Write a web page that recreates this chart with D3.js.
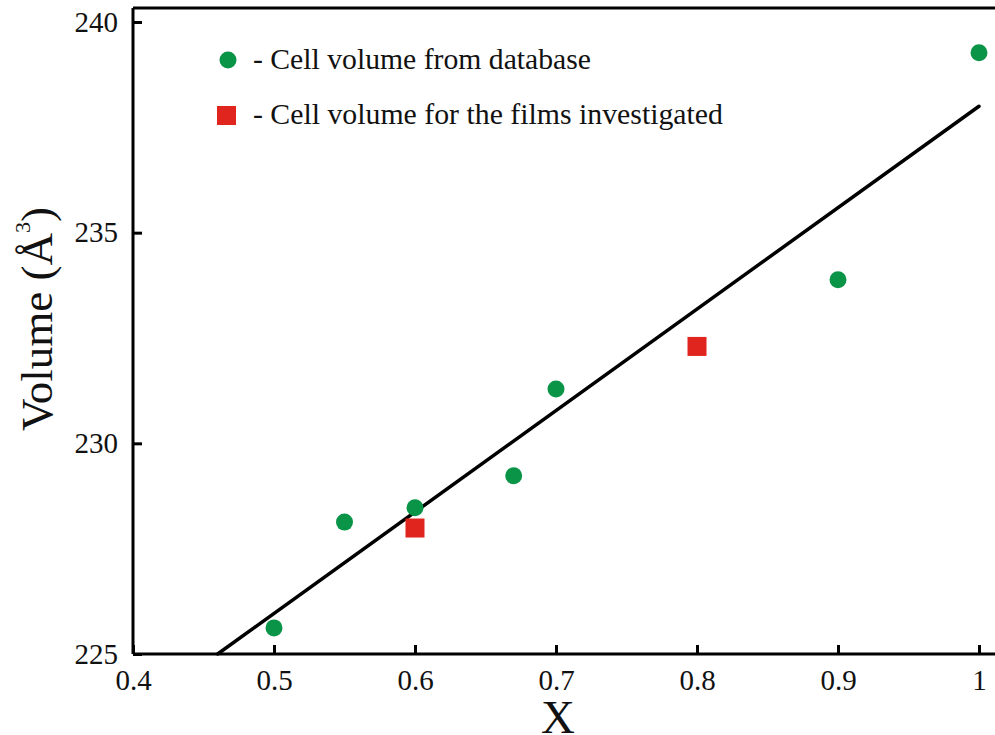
<!DOCTYPE html>
<html>
<head>
<meta charset="utf-8">
<script src="https://cdn.jsdelivr.net/npm/d3@7/dist/d3.min.js"></script>
<style>
  html, body { margin: 0; padding: 0; background: #fff; }
  svg { display: block; }
  svg text { font-family: "Liberation Serif", "Times New Roman", serif; }
</style>
</head>
<body>
<svg id="chart" width="995" height="735"></svg>
<script>
// Cell volume from database
const dbX = [0.5, 0.55, 0.6, 0.67, 0.7, 0.9, 1.0];
const dbV = [225.62, 228.13, 228.47, 229.23, 231.29, 233.88, 239.27];

// Cell volume for the films investigated
const filmX = [0.6, 0.8];
const filmV = [227.99, 232.30];

// Linear fit endpoints
const fitX = [0.46, 1.0];
const fitV = [225.0, 238.0];

const xTicks = [0.4, 0.5, 0.6, 0.7, 0.8, 0.9, 1];
const yTicks = [225, 230, 235, 240];
const xTickLabels = ["0.4", "0.5", "0.6", "0.7", "0.8", "0.9", "1"];

const legendLabels = ["- Cell volume from database", "- Cell volume for the films investigated"];

const GREEN = "#0a9447";
const RED = "#e0251e";
const SERIF = "'Liberation Serif', 'Times New Roman', serif";

const svg = d3.select("#chart");
const plotLeft = 133, plotRight = 995, plotTop = 8, plotBottom = 654;

const x = d3.scaleLinear().domain([0.4, 1.0]).range([plotLeft, 979]);
const y = d3.scaleLinear().domain([225, 240]).range([plotBottom, 22]);

// frame: top border line
svg.append("line")
  .attr("x1", plotLeft).attr("x2", plotRight)
  .attr("y1", plotTop).attr("y2", plotTop)
  .attr("stroke", "#000").attr("stroke-width", 3);

// x axis
const xAxis = svg.append("g")
  .attr("transform", `translate(0,${plotBottom})`)
  .call(d3.axisBottom(x).tickValues(xTicks).tickSizeInner(-9).tickSizeOuter(0)
    .tickFormat((d, i) => xTickLabels[i]).tickPadding(15));
xAxis.style("font-family", SERIF);
xAxis.select(".domain").attr("d", `M${plotLeft},0H${plotRight}`).attr("stroke-width", 3);
xAxis.selectAll(".tick line").attr("stroke-width", 3);
xAxis.selectAll(".tick text")
  .style("font-family", SERIF).attr("font-size", 29).attr("fill", "#111");

// y axis
const yAxis = svg.append("g")
  .attr("transform", `translate(${plotLeft},0)`)
  .call(d3.axisLeft(y).tickValues(yTicks).tickSizeInner(-9).tickSizeOuter(0).tickPadding(15));
yAxis.style("font-family", SERIF);
yAxis.select(".domain").attr("d", `M0,${plotTop}V${plotBottom}`).attr("stroke-width", 3);
yAxis.selectAll(".tick line").attr("stroke-width", 3);
yAxis.selectAll(".tick text")
  .style("font-family", SERIF).attr("font-size", 29).attr("fill", "#111");

// fit line
const line = d3.line().x(d => x(d[0])).y(d => y(d[1]));
svg.append("path")
  .datum(fitX.map((v, i) => [v, fitV[i]]))
  .attr("d", line)
  .attr("fill", "none").attr("stroke", "#000").attr("stroke-width", 3.5)
  .attr("stroke-linecap", "round");

// database points
svg.append("g").selectAll("circle")
  .data(dbX.map((v, i) => [v, dbV[i]]))
  .join("circle")
  .attr("cx", d => x(d[0])).attr("cy", d => y(d[1]))
  .attr("r", 8.5).attr("fill", GREEN);

// film points
const sq = 19;
svg.append("g").selectAll("rect")
  .data(filmX.map((v, i) => [v, filmV[i]]))
  .join("rect")
  .attr("x", d => x(d[0]) - sq / 2).attr("y", d => y(d[1]) - sq / 2)
  .attr("width", sq).attr("height", sq).attr("fill", RED);

// legend
const lg = svg.append("g");
lg.append("circle").attr("cx", 228).attr("cy", 60).attr("r", 8.5).attr("fill", GREEN);
lg.append("rect").attr("x", 217).attr("y", 106).attr("width", 19).attr("height", 19).attr("fill", RED);
lg.selectAll("text")
  .data(legendLabels)
  .join("text")
  .attr("x", 253).attr("y", (d, i) => 69 + i * 55)
  .style("font-family", SERIF)
  .attr("font-size", 29).attr("fill", "#111")
  .attr("textLength", (d, i) => [338, 470][i])
  .attr("lengthAdjust", "spacingAndGlyphs")
  .text(d => d);

// axis titles
svg.append("text")
  .attr("x", 558).attr("y", 733)
  .style("font-family", SERIF)
  .attr("text-anchor", "middle").attr("font-size", 47).attr("fill", "#111")
  .text("X");

const yt = svg.append("text")
  .attr("transform", "translate(52,319) rotate(-90)")
  .style("font-family", SERIF)
  .attr("text-anchor", "middle").attr("font-size", 45).attr("fill", "#111");
yt.append("tspan").text("Volume (Å");
yt.append("tspan").attr("font-size", 22).attr("dy", -22).text("3");
yt.append("tspan").attr("dy", 22).text(")");
</script>
</body>
</html>
